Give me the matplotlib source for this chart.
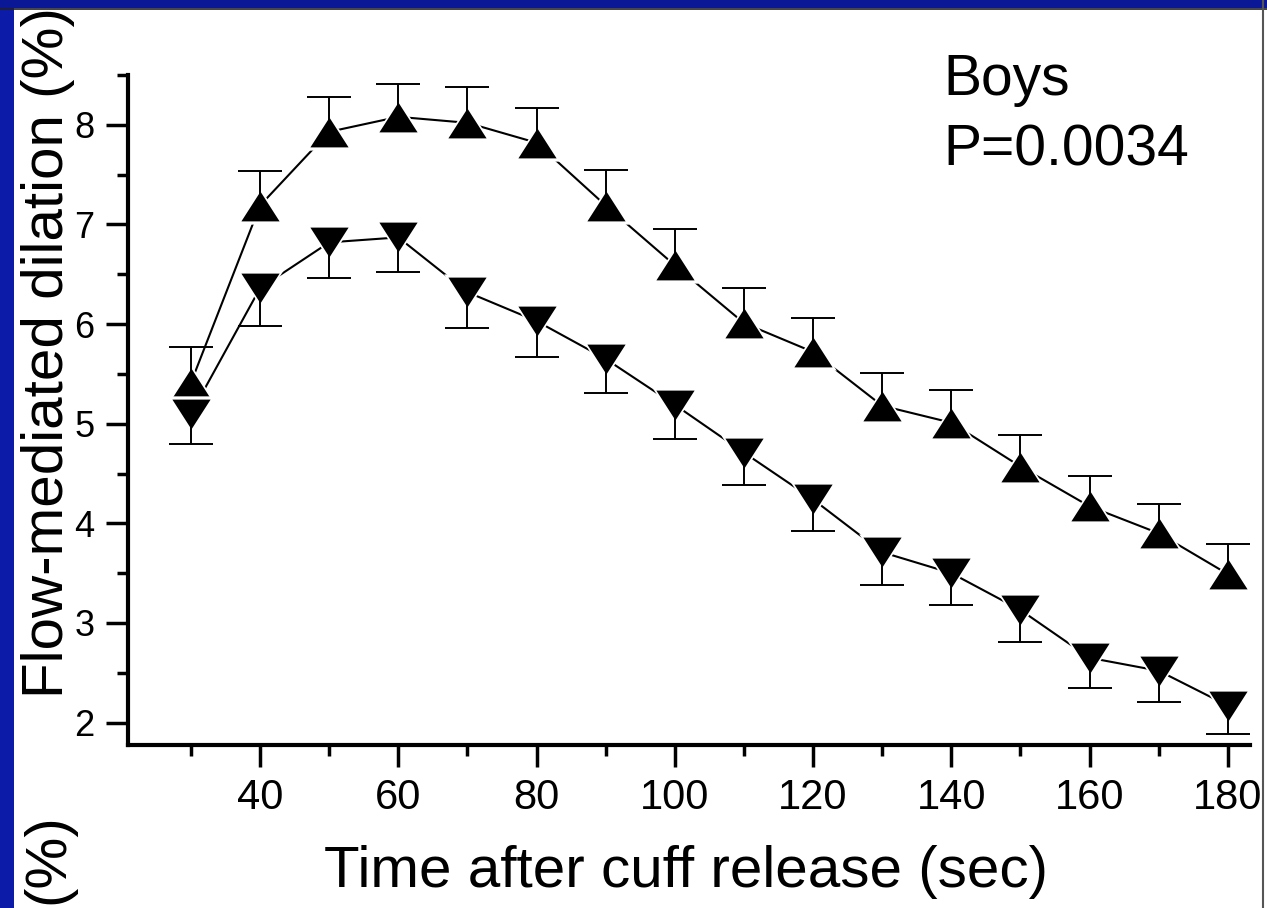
import matplotlib
matplotlib.use("Agg")
import matplotlib.pyplot as plt
from matplotlib.patches import Rectangle
from matplotlib.lines import Line2D

plt.rcParams['font.family'] = ['Liberation Sans', 'DejaVu Sans']

# data
time = [30, 40, 50, 60, 70, 80, 90, 100, 110, 120, 130, 140, 150, 160, 170, 180]
up_mean = [5.41, 7.19, 7.93, 8.08, 8.02, 7.82, 7.19, 6.59, 6.01, 5.72, 5.18, 5.01, 4.57, 4.17, 3.90, 3.49]
up_err = [0.36, 0.35, 0.35, 0.33, 0.36, 0.35, 0.36, 0.36, 0.35, 0.34, 0.33, 0.33, 0.32, 0.31, 0.29, 0.30]
down_mean = [5.10, 6.36, 6.82, 6.87, 6.32, 6.03, 5.65, 5.19, 4.71, 4.24, 3.71, 3.50, 3.13, 2.65, 2.52, 2.17]
down_err = [0.30, 0.38, 0.36, 0.35, 0.36, 0.36, 0.34, 0.34, 0.33, 0.32, 0.33, 0.32, 0.32, 0.30, 0.31, 0.28]

xticks = [40, 60, 80, 100, 120, 140, 160, 180]
yticks = [2, 3, 4, 5, 6, 7, 8]

# wide triangles (wider than tall)
tri_up = [(-1, -0.78), (1, -0.78), (0, 0.78), (-1, -0.78)]
tri_down = [(-1, 0.78), (1, 0.78), (0, -0.78), (-1, 0.78)]

W, H = 1267, 908
fig = plt.figure(figsize=(W / 100, H / 100), dpi=100, facecolor='white')
ax = fig.add_axes([128 / W, 163 / H, 1122 / W, 670 / H])

# connecting lines
ax.plot(time, up_mean, color='black', lw=1.5, zorder=1)
ax.plot(time, down_mean, color='black', lw=1.5, zorder=1)

ms = 27.5
# white halo then black marker, so lines stop short of the markers
ax.plot(time, up_mean, ls='none', marker=tri_up, ms=ms + 6, color='white', mec='none', zorder=2)
ax.plot(time, up_mean, ls='none', marker=tri_up, ms=ms, color='black', mec='none', zorder=3)
ax.plot(time, down_mean, ls='none', marker=tri_down, ms=ms + 6, color='white', mec='none', zorder=4)
ax.plot(time, down_mean, ls='none', marker=tri_down, ms=ms, color='black', mec='none', zorder=5)

# one-sided error bars (upper for the up series, lower for the down series)
eb_up = ax.errorbar(time, up_mean, yerr=[[0] * len(up_err), up_err], fmt='none',
                    ecolor='black', elinewidth=1.4, capsize=15.5, capthick=1.4, zorder=6)
eb_up[1][0].set_visible(False)
eb_dn = ax.errorbar(time, down_mean, yerr=[down_err, [0] * len(down_err)], fmt='none',
                    ecolor='black', elinewidth=1.4, capsize=15.5, capthick=1.4, zorder=6)
eb_dn[1][1].set_visible(False)

ax.set_xlim(20.9, 183.2)
ax.set_ylim(1.775, 8.5)
ax.set_xticks(xticks)
ax.set_xticks([t - 10 for t in xticks], minor=True)
ax.set_yticks(yticks)
ax.set_yticks([v + 0.5 for v in yticks], minor=True)

for s in ['top', 'right']:
    ax.spines[s].set_visible(False)
for s in ['left', 'bottom']:
    ax.spines[s].set_linewidth(3)

ax.tick_params(which='major', direction='out', length=16, width=2.5)
ax.tick_params(which='minor', direction='out', length=8, width=2.5)
ax.tick_params(axis='x', which='major', labelsize=30, pad=8)
ax.tick_params(axis='y', which='major', labelsize=26, pad=8)

fig.text(686 / W, 21 / H, 'Time after cuff release (sec)', fontsize=42,
         ha='center', va='baseline')
fig.text(63 / W, (H - 698) / H, 'Flow-mediated dilation (%)', fontsize=42,
         rotation=90, rotation_mode='anchor', ha='left', va='baseline')
# cut-off label remnant at lower left
fig.text(63 / W, (H - 813) / H, '(%)', fontsize=42,
         rotation=90, rotation_mode='anchor', ha='right', va='baseline')

fig.text(943 / W, (H - 95) / H, 'Boys', fontsize=41, ha='left', va='baseline')
fig.text(943 / W, (H - 165) / H, 'P=0.0034', fontsize=41, ha='left', va='baseline')

# slide frame
fig.patches.append(Rectangle((0, 0), 14 / W, 1, transform=fig.transFigure,
                             facecolor='#0c1ca8', edgecolor='none', zorder=10))
fig.patches.append(Rectangle((0, 1 - 8 / H), 1, 8 / H, transform=fig.transFigure,
                             facecolor='#0a1896', edgecolor='none', zorder=10))
fig.lines.append(Line2D([0, 1], [1 - 8.5 / H, 1 - 8.5 / H], transform=fig.transFigure,
                        color='#222222', lw=1.2, zorder=11))
fig.lines.append(Line2D([1263 / W, 1263 / W], [0, 1], transform=fig.transFigure,
                        color='#555555', lw=1.5, zorder=11))

fig.savefig('out.png', dpi=100, facecolor='white')
